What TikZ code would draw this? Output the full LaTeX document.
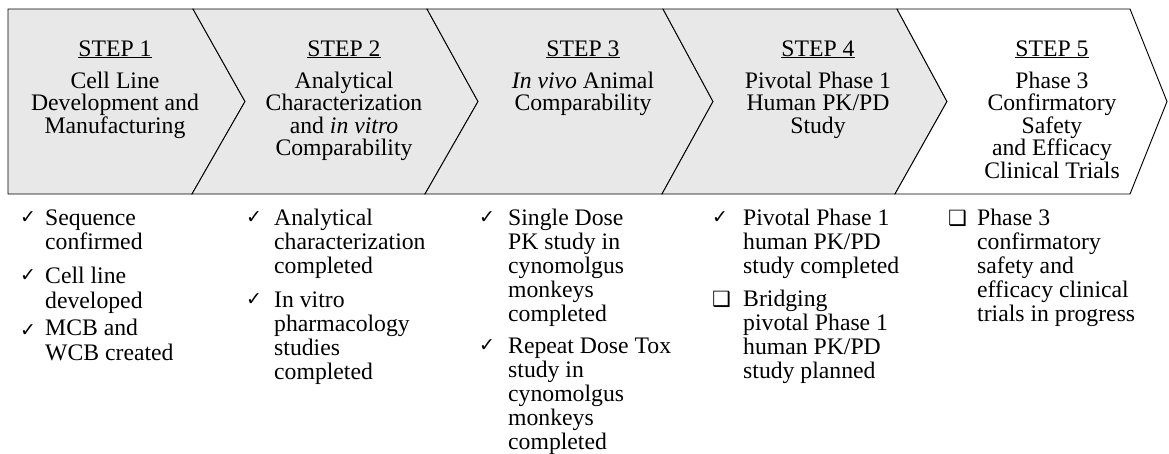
\documentclass[tikz,border=0pt]{standalone}
\usepackage{fontspec}
\setmainfont{Liberation Serif}
\newfontfamily\symfont{DejaVu Sans}
\definecolor{stepgray}{HTML}{E8E8E8}
\newcommand\linesC[2]{\vtop{\baselineskip=#1\lineskiplimit=-100pt\lineskip=0pt\halign{\hfil##\hfil\cr#2\crcr}}}
\newcommand\linesL[2]{\vtop{\baselineskip=#1\lineskiplimit=-100pt\lineskip=0pt\halign{##\hfil\cr#2\crcr}}}
\begin{document}
\begin{tikzpicture}[x=1pt,y=-1pt,
  chev/.style={draw=black, line width=0.9pt, fill=stepgray, line join=miter},
  head/.style={anchor=base, inner sep=0pt, font=\fontsize{23.7}{22.5}\selectfont},
  desc/.style={anchor=base, inner sep=0pt, font=\fontsize{23.7}{22.5}\selectfont},
  item/.style={anchor=base west, inner sep=0pt, font=\fontsize{23.7}{24}\selectfont},
  tick/.style={anchor=base west, inner sep=0pt, font=\symfont\fontsize{19}{19}\selectfont},
  boxmark/.style={anchor=base west, inner sep=0pt, font=\symfont\fontsize{21}{21}\selectfont},
]
\useasboundingbox (0,0) rectangle (1169,453);
% chevrons
\draw[chev] (8,9) -- (193,9) -- (245,101.5) -- (192,194) -- (8,194) -- cycle;
\draw[chev] (193,9) -- (427,9) -- (478,101.5) -- (425,194) -- (192,194) -- (245,101.5) -- cycle;
\draw[chev] (427,9) -- (663,9) -- (713,101.5) -- (662,194) -- (425,194) -- (478,101.5) -- cycle;
\draw[chev] (663,9) -- (897,9) -- (947,101.5) -- (895,194) -- (662,194) -- (713,101.5) -- cycle;
\draw[chev, fill=white] (897,9) -- (1130,9) -- (1167,101.5) -- (1130,194) -- (895,194) -- (947,101.5) -- cycle;
% headings
\node[head] (h1) at (115,56) {\underline{STEP 1}};
\node[head] (h2) at (344,56) {\underline{STEP 2}};
\node[head] (h3) at (583,56) {\underline{STEP 3}};
\node[head] (h4) at (818,56) {\underline{STEP 4}};
\node[head] (h5) at (1052,56) {\underline{STEP 5}};
\node[desc] (d1) at (115,88) {\linesC{22.5pt}{Cell Line\cr Development and\cr Manufacturing}};
\node[desc] (d2) at (344,88) {\linesC{22.5pt}{Analytical\cr Characterization\cr and \textit{in vitro}\cr Comparability}};
\node[desc] (d3) at (583,88) {\linesC{22.5pt}{\textit{In vivo} Animal\cr Comparability}};
\node[desc] (d4) at (818,88) {\linesC{22.5pt}{Pivotal Phase 1\cr Human PK/PD\cr Study}};
\node[desc] (d5) at (1052,88) {\linesC{22.5pt}{Phase 3\cr Confirmatory\cr Safety\cr and Efficacy\cr Clinical Trials}};
% column 1
\node[tick] (c11) at (20,223) {✓};
\node[item] (i11) at (45,225) {\linesL{24.5pt}{Sequence\cr confirmed}};
\node[tick] (c12) at (20,281) {✓};
\node[item] (i12) at (45,283) {\linesL{25pt}{Cell line\cr developed}};
\node[tick] (c13) at (20,336) {✓};
\node[item] (i13) at (45,335) {\linesL{25.5pt}{MCB and\cr WCB created}};
% column 2
\node[tick] (c21) at (246,223) {✓};
\node[item] (i21) at (274,225) {\linesL{24pt}{Analytical\cr characterization\cr completed}};
\node[tick] (c22) at (246,305) {✓};
\node[item] (i22) at (274,307) {\linesL{24pt}{In vitro\cr pharmacology\cr studies\cr completed}};
% column 3
\node[tick] (c31) at (479,223) {✓};
\node[item] (i31) at (508,225) {\linesL{24.2pt}{Single Dose\cr PK study in\cr cynomolgus\cr monkeys\cr completed}};
\node[tick] (c32) at (479,351) {✓};
\node[item] (i32) at (508,353) {\linesL{24pt}{Repeat Dose Tox\cr study in\cr cynomolgus\cr monkeys\cr completed}};
% column 4
\node[tick] (c41) at (712,223) {✓};
\node[item] (i41) at (743,225) {\linesL{24pt}{Pivotal Phase 1\cr human PK/PD\cr study completed}};
\node[boxmark] (c42) at (712,306) {❑};
\node[item] (i42) at (743,306) {\linesL{24pt}{Bridging\cr pivotal Phase 1\cr human PK/PD\cr study planned}};
% column 5
\node[boxmark] (c51) at (948,225) {❑};
\node[item] (i51) at (977,225) {\linesL{24pt}{Phase 3\cr confirmatory\cr safety and\cr efficacy clinical\cr trials in progress}};
\end{tikzpicture}
\end{document}
